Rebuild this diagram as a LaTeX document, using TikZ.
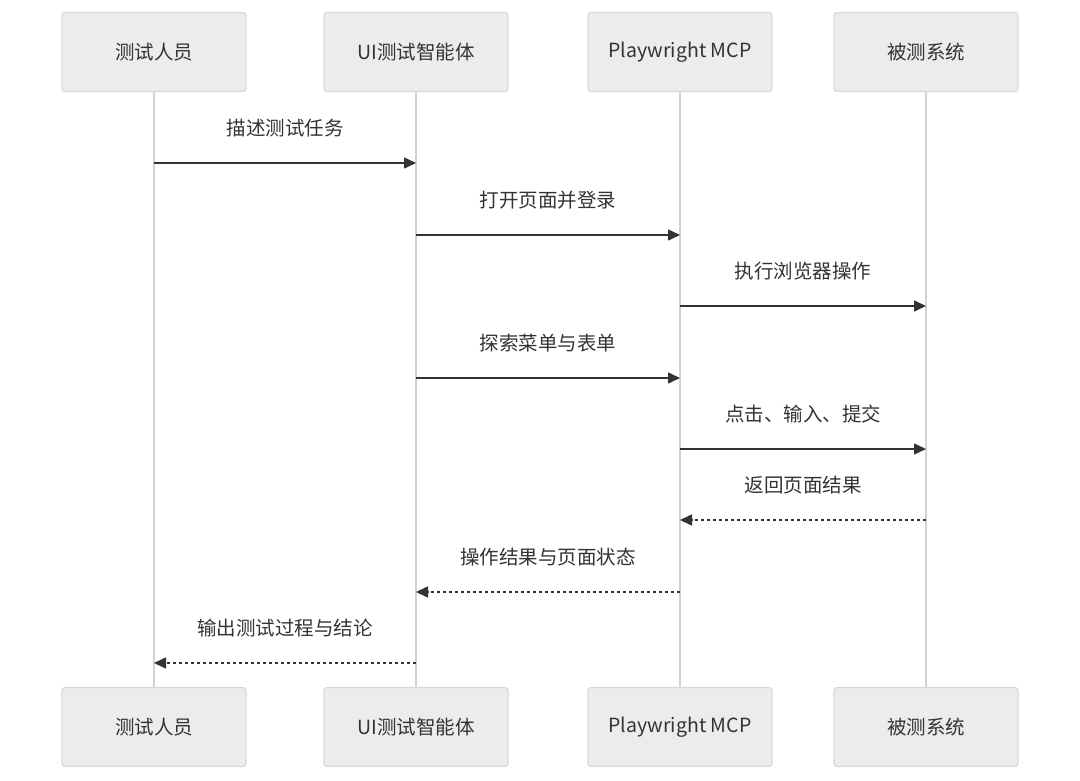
\documentclass[tikz,border=0pt]{standalone}
\usepackage{fontspec}
\setmainfont{Noto Sans CJK SC}
\usetikzlibrary{arrows.meta}
\definecolor{boxfill}{HTML}{ECECEC}
\definecolor{boxline}{HTML}{D9D9D9}
\definecolor{lifeline}{HTML}{D3D3D3}
\definecolor{ink}{HTML}{333333}
\begin{document}
\begin{tikzpicture}[x=1pt,y=-1pt,
  actor/.style={draw=boxline,line width=1.2pt,fill=boxfill,rounded corners=3pt,minimum width=184pt,minimum height=79pt,inner sep=0pt,font=\fontsize{19.5}{22}\selectfont,text=ink},
  life/.style={draw=lifeline,line width=1.8pt},
  msg/.style={draw=ink,line width=1.6pt,-{Triangle[length=12pt,width=11pt]}},
  ret/.style={msg,dash pattern=on 3pt off 3pt},
  lbl/.style={font=\fontsize{19.5}{22}\selectfont,text=ink,inner sep=0pt}]
\useasboundingbox (0,0) rectangle (1080,781);
\fill[white] (0,0) rectangle (1080,781);
% lifelines first
\foreach \x/\n in {154/a,416/b,680/c,926/d}{
  \coordinate (\n t) at (\x,92);
  \coordinate (\n b) at (\x,687);
  \draw[life] (\n t) -- (\n b);
}
\node[actor] (A1) at (154,52) {测试人员};
\node[actor] (B1) at (416,52) {UI测试智能体};
\node[actor] (C1) at (680,52) {Playwright MCP};
\node[actor] (D1) at (926,52) {被测系统};
\node[actor] (A2) at (154,727) {测试人员};
\node[actor] (B2) at (416,727) {UI测试智能体};
\node[actor] (C2) at (680,727) {Playwright MCP};
\node[actor] (D2) at (926,727) {被测系统};
% message coordinates
\foreach \n/\x in {a/154,b/416,c/680,d/926}{
  \foreach \i/\y in {1/163,2/235,3/306,4/378,5/449,6/520,7/592,8/663}{
    \coordinate (\n\i) at (\x,\y);
  }
}
\draw[msg] (a1) -- (b1) node[lbl,midway,yshift=35pt] (m1) {描述测试任务};
\draw[msg] (b2) -- (c2) node[lbl,midway,yshift=35pt] (m2) {打开页面并登录};
\draw[msg] (c3) -- (d3) node[lbl,midway,yshift=35pt] (m3) {执行浏览器操作};
\draw[msg] (b4) -- (c4) node[lbl,midway,yshift=35pt] (m4) {探索菜单与表单};
\draw[msg] (c5) -- (d5) node[lbl,midway,yshift=35pt] (m5) {点击、输入、提交};
\draw[ret] (d6) -- (c6) node[lbl,midway,yshift=35pt] (m6) {返回页面结果};
\draw[ret] (c7) -- (b7) node[lbl,midway,yshift=35pt] (m7) {操作结果与页面状态};
\draw[ret] (b8) -- (a8) node[lbl,midway,yshift=35pt] (m8) {输出测试过程与结论};
\end{tikzpicture}
\end{document}
